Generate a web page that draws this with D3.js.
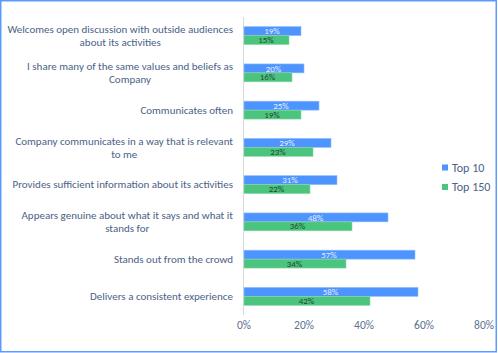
<!DOCTYPE html>
<html lang="en">
<head>
<meta charset="utf-8">
<script src="https://cdn.jsdelivr.net/npm/d3@7"></script>
<style>
  body { margin: 0; background: #fff; }
  svg { display: block; }
  text { font-family: Carlito, 'Liberation Sans', sans-serif; }
</style>
</head>
<body>
<script>
    // categories (each entry = lines of the wrapped label)
    const categories = [
        ['Welcomes open discussion with outside audiences', 'about its activities'],
        ['I share many of the same values and beliefs as', 'Company'],
        ['Communicates often'],
        ['Company communicates in a way that is relevant', 'to me'],
        ['Provides sufficient information about its activities'],
        ['Appears genuine about what it says and what it', 'stands for'],
        ['Stands out from the crowd'],
        ['Delivers a consistent experience']
    ];
    const top10 = [19, 20, 25, 29, 31, 48, 57, 58];
    const top150 = [15, 16, 19, 23, 22, 36, 34, 42];
    const seriesNames = ['Top 10', 'Top 150'];
    const ticks = [0, 20, 40, 60, 80];

    const w = 498, h = 353;
    const colors = ['#4d94ff', '#4bc47d'];
    const labelColors = ['#e3eeff', '#1f4a31'];

    const svg = d3.select('body').append('svg')
        .attr('width', w)
        .attr('height', h);

    // outer border
    svg.append('rect')
        .attr('x', 0.75).attr('y', 0.75)
        .attr('width', 495.5).attr('height', 351)
        .attr('fill', 'none')
        .attr('stroke', '#5b9bff')
        .attr('stroke-width', 1.5);

    const x = d3.scaleLinear().domain([0, 80]).range([243.5, 483.5]);
    const y = d3.scaleBand()
        .domain(d3.range(categories.length))
        .range([17, 315])
        .paddingInner(0.52)
        .paddingOuter(0.26);
    const ySub = d3.scaleBand()
        .domain([0, 1])
        .range([0, y.bandwidth()]);

    // x axis tick labels
    const xAxis = d3.axisBottom(x)
        .tickValues(ticks)
        .tickFormat(d => d + '%')
        .tickSize(0)
        .tickPadding(0);
    const gx = svg.append('g')
        .attr('transform', 'translate(0,321)')
        .call(xAxis);
    gx.select('.domain').remove();
    gx.selectAll('text')
        .attr('fill', '#5d7191')
        .attr('font-size', 11.5)
        .attr('dy', '0.71em');

    // category axis line
    svg.append('line')
        .attr('x1', x(0)).attr('x2', x(0))
        .attr('y1', 17).attr('y2', 315)
        .attr('stroke', '#d9d9d9')
        .attr('stroke-width', 1);

    const rows = categories.map((c, i) => ({i, values: [top10[i], top150[i]]}));

    const groups = svg.selectAll('g.row')
        .data(rows)
        .enter()
        .append('g')
        .attr('class', 'row')
        .attr('transform', d => `translate(0,${y(d.i)})`);

    groups.selectAll('rect')
        .data(d => d.values.map((v, k) => ({v, k})))
        .enter()
        .append('rect')
        .attr('x', x(0) + 0.5)
        .attr('y', d => ySub(d.k))
        .attr('width', d => x(d.v) - x(0))
        .attr('height', ySub.bandwidth())
        .attr('fill', d => colors[d.k])
        .attr('stroke', d => d.k === 0 ? '#8fbcff' : '#8ad6a8')
        .attr('stroke-width', 0.6);

    groups.selectAll('text.val')
        .data(d => d.values.map((v, k) => ({v, k})))
        .enter()
        .append('text')
        .attr('class', 'val')
        .attr('x', d => x(0) + (x(d.v) - x(0)) / 2)
        .attr('y', d => ySub(d.k) + ySub.bandwidth() / 2)
        .attr('dy', '0.35em')
        .attr('text-anchor', 'middle')
        .attr('font-size', 9)
        .attr('fill', d => labelColors[d.k])
        .text(d => d.v + '%');

    // category labels, right aligned block, lines centred
    const lineH = 13.4;
    categories.forEach((lines, i) => {
        const cy = y(i) + y.bandwidth() / 2;
        const g = svg.append('g');
        const texts = lines.map((t, j) => g.append('text')
            .attr('y', cy + (j - (lines.length - 1) / 2) * lineH)
            .attr('dy', '0.35em')
            .attr('text-anchor', 'middle')
            .attr('font-size', 11)
            .attr('fill', '#4a6285')
            .text(t));
        const maxW = d3.max(texts, t => t.node().getComputedTextLength());
        texts.forEach(t => t.attr('x', 233 - maxW / 2));
    });

    // legend
    const legend = svg.selectAll('g.legend')
        .data(seriesNames)
        .enter()
        .append('g')
        .attr('class', 'legend')
        .attr('transform', (d, i) => `translate(442,${167.5 + i * 19.5})`);
    legend.append('rect')
        .attr('x', 0).attr('y', -3)
        .attr('width', 6).attr('height', 6)
        .attr('fill', (d, i) => colors[i]);
    legend.append('text')
        .attr('x', 10)
        .attr('dy', '0.35em')
        .attr('font-size', 12)
        .attr('fill', '#4a6285')
        .text(d => d);
</script>
</body>
</html>
